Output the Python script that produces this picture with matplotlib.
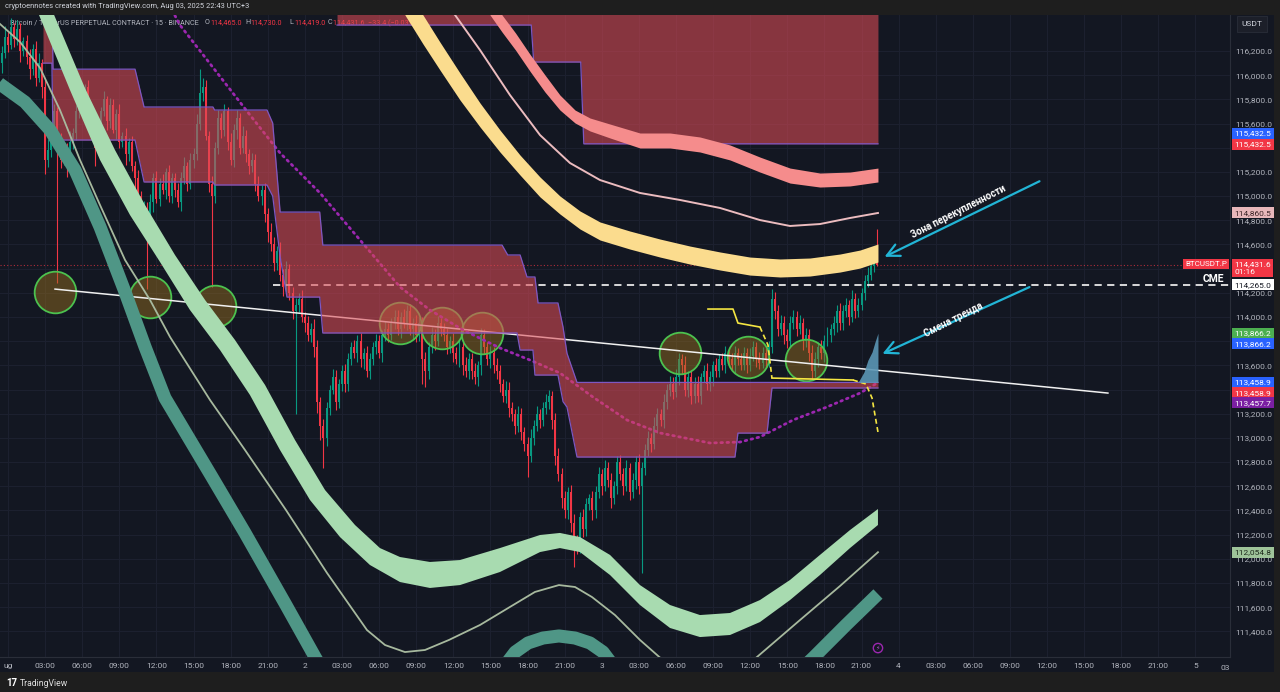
import matplotlib
matplotlib.use("Agg")
import matplotlib.pyplot as plt
from matplotlib.patches import Rectangle
from matplotlib.transforms import blended_transform_factory

plt.rcParams['font.family'] = ['Roboto', 'DejaVu Sans']

# ---------------- data ----------------
bar_start_h = -0.5      # first 15-min candle, hours since Aug 1 00:00
bar_step_h = 0.25
first_open = 116100

closes = [
    116180, 116320, 116250, 116400, 116300, 116380, 116200, 116280,
    116150, 116050, 116220, 115980, 116100, 115900, 115300, 115380,
    115500, 115700, 115450, 115300, 115380, 115250, 115450, 115520,
    115700, 115850, 115750, 115900, 115650, 115550, 115400, 115500,
    115700, 115800, 115620, 115750, 115550, 115680, 115450, 115500,
    115350, 115450, 115250, 115150, 115000, 114800, 114900, 114700,
    114950, 115150, 114980, 115100, 115050, 115200, 115000, 115150,
    115050, 114950, 115150, 115250, 115100, 115300, 115350, 115600,
    115850, 115900, 115500, 115100, 115000, 115400, 115650, 115550,
    115700, 115450, 115300, 115550, 115650, 115400, 115500, 115350,
    115250, 115300, 115100, 115000, 115050, 114850, 114700, 114600,
    114450, 114550, 114350, 114250, 114400, 114200, 114050, 114100,
    114150, 114000, 113950, 113850, 113900, 113750, 113300, 113100,
    113000, 113250, 113400, 113500, 113300, 113450, 113550, 113450,
    113650, 113750, 113700, 113800, 113650, 113700, 113550, 113650,
    113750, 113800, 113700, 113850, 113900, 113850, 113950, 114000,
    113900, 114000, 113950, 114050, 113900, 113950, 113850, 113950,
    113650, 113550, 113750, 113850, 113800, 113950, 113900, 113850,
    113750, 113800, 113700, 113650, 113750, 113600, 113550, 113650,
    113550, 113500, 113600, 113850, 113750, 113650, 113700, 113600,
    113550, 113450, 113350, 113400, 113250, 113200, 113100, 113200,
    113050, 112950, 112850, 113000, 113100, 113200, 113150, 113250,
    113300, 113350, 113150, 112850, 112700, 112500, 112400, 112550,
    112300, 112150, 112100, 112350, 112250, 112450, 112500, 112400,
    112550, 112700, 112600, 112750, 112650, 112500, 112600, 112800,
    112700, 112600, 112750, 112550, 112650, 112800, 112600, 112750,
    112900, 113000, 112950, 113100, 113200, 113150, 113300, 113400,
    113450, 113380, 113500, 113650, 113600, 113400, 113500, 113350,
    113450, 113350, 113500, 113550, 113450, 113500, 113600, 113550,
    113650, 113600, 113700, 113650, 113600, 113700, 113650, 113600,
    113700, 113600, 113680, 113750, 113650, 113620, 113700, 113650,
    113750, 114150, 114050, 113900, 113950, 113850, 113800, 113950,
    114000, 113900, 113950, 113800, 113850, 113700, 113550, 113650,
    113750, 113700, 113800, 113850, 113900, 113950, 114050, 113950,
    114050, 114100, 114000, 114150, 114050, 114100, 114200, 114300,
    114350, 114420, 114465, 114431.6,
]
wick_up = [
    60, 90, 40, 70, 30, 80, 50, 40,   50, 70, 40, 60, 80, 30, 60, 90,
    80, 60, 40, 70, 50, 60, 90, 40,   50, 40, 70, 30, 60, 80, 40, 50,
    40, 70, 30, 60, 50, 40, 80, 30,   60, 30, 50, 40, 70, 40, 60, 50,
    70, 40, 60, 50, 80, 30, 60, 40,   40, 60, 50, 70, 30, 60, 50, 80,
    200, 80, 60, 40, 70, 50, 60, 40,  60, 40, 70, 50, 60, 40, 80, 50,
    40, 60, 50, 70, 40, 60, 50, 80,   60, 40, 70, 50, 60, 40, 50, 60,
    50, 70, 40, 60, 50, 80, 60, 40,   60, 50, 40, 70, 60, 40, 50, 60,
    50, 40, 60, 50, 70, 40, 60, 50,   40, 60, 50, 40, 70, 50, 40, 60,
    60, 40, 70, 50, 60, 40, 70, 50,   50, 60, 40, 70, 50, 60, 40, 50,
    60, 40, 70, 50, 60, 40, 70, 50,   50, 70, 40, 60, 50, 40, 60, 50,
    60, 50, 40, 70, 60, 50, 40, 60,   50, 40, 60, 70, 50, 60, 40, 50,
    60, 50, 40, 60, 70, 50, 60, 40,   60, 70, 50, 40, 60, 50, 40, 60,
    50, 60, 40, 70, 50, 60, 40, 50,   60, 50, 70, 40, 60, 50, 70, 50,
    50, 60, 40, 70, 50, 40, 60, 50,   60, 50, 70, 50, 40, 80, 50, 60,
    50, 60, 40, 50, 70, 50, 40, 60,   40, 50, 60, 40, 50, 60, 40, 50,
    50, 40, 60, 50, 40, 60, 50, 40,   50, 80, 60, 50, 70, 60, 50, 60,
    60, 50, 70, 40, 60, 50, 70, 60,   40, 60, 50, 70, 40, 60, 50, 70,
    50, 60, 40, 70, 50, 60, 40, 50,   60, 40, 30, 265,
]
wick_dn = [
    80, 40, 60, 30, 70, 50, 90, 40,   60, 80, 50, 70, 40, 90, 120, 60,
    60, 50, 1170, 70, 40, 90, 50, 60, 60, 50, 40, 80, 70, 30, 150, 60,
    50, 40, 70, 60, 30, 80, 50, 40,   90, 60, 40, 150, 60, 80, 70, 470,
    50, 80, 40, 60, 30, 70, 50, 60,   60, 40, 70, 50, 60, 40, 70, 50,
    50, 60, 40, 70, 750, 60, 50, 70,  50, 70, 40, 60, 80, 50, 40, 70,
    70, 50, 60, 40, 70, 60, 80, 50,   70, 60, 50, 80, 40, 60, 70, 850,
    60, 40, 70, 50, 60, 80, 90, 120,  250, 70, 60, 40, 70, 50, 60, 70,
    60, 50, 40, 70, 60, 80, 50, 60,   50, 60, 40, 70, 50, 60, 40, 50,
    50, 70, 40, 60, 50, 80, 60, 50,   200, 130, 60, 50, 70, 40, 60, 50,
    60, 50, 70, 40, 60, 80, 50, 60,   60, 50, 70, 80, 60, 50, 70, 60,
    60, 70, 50, 60, 80, 60, 70, 50,   70, 60, 170, 50, 60, 40, 70, 50,
    50, 60, 80, 70, 60, 80, 60, 70,   80, 220, 60, 50, 70, 60, 50, 80,
    60, 50, 70, 40, 60, 80, 50, 60,   50, 70, 40, 60, 50, 70, 60, 720,
    60, 50, 70, 40, 60, 50, 70, 60,   50, 60, 40, 60, 70, 50, 60, 70,
    60, 50, 70, 40, 50, 60, 70, 50,   50, 40, 60, 50, 40, 60, 50, 40,
    40, 60, 50, 40, 60, 50, 40, 60,   60, 50, 70, 60, 50, 70, 60, 50,
    50, 60, 40, 70, 50, 60, 70, 50,   60, 50, 70, 40, 60, 50, 70, 60,
    60, 50, 70, 40, 60, 50, 40, 60,   50, 40, 45, 12.6,
]

# stepped channel (lower-left) and upper channel
bandA_h = [2.83, 3.55, 3.64, 10.27, 11.00, 16.57, 16.70, 20.94, 21.40, 22.00, 22.55, 25.20, 25.45,
           39.94, 40.40, 41.15, 41.40, 41.96, 42.44, 42.60, 42.85, 44.46, 44.87, 45.19, 46.00,
           58.77, 59.01, 61.36, 61.76, 70.33]
bandA_up = [116600, 116600, 116050, 116050, 115737, 115737, 115712, 115712, 115604, 114868, 114868, 114868, 114595,
            114595, 114513, 114513, 114513, 114331, 114331, 114331, 114116, 114116, 113917, 113700, 113459,
            113459, 113459, 113459, 113459, 113459]
bandA_lo = [116100, 116100, 115464, 115464, 115117, 115117, 115092, 115092, 115000, 114500, 114165, 114165, 113868,
            113868, 113868, 113868, 113727, 113727, 113727, 113520, 113520, 113520, 113300, 113255, 112842,
            112842, 113040, 113040, 113413, 113413]
bandB_h = [26.60, 42.30, 42.50, 46.30, 46.55, 70.33]
bandB_lo = [116415, 116415, 116109, 116109, 115432.5, 115432.5]
bandB_top = 116700

# yellow ribbon
yel_h = [32.09, 33.55, 34.92, 36.54, 38.16, 39.77, 41.39, 43.01, 44.62, 46.24, 47.86, 50.28, 52.71,
         55.13, 57.56, 59.98, 62.41, 64.83, 67.26, 68.88, 70.33]
yel_top = [116700, 116498, 116274, 116018, 115770, 115547, 115340, 115158, 115001, 114877, 114786, 114711, 114645,
           114587, 114538, 114496, 114480, 114488, 114521, 114554, 114604]
yel_bot = [116498, 116258, 116043, 115795, 115572, 115365, 115175, 114993, 114852, 114728, 114637, 114562, 114496,
           114438, 114389, 114347, 114331, 114339, 114372, 114405, 114455]

# salmon ribbon
sal_h = [38.97, 39.94, 41.03, 42.24, 43.41, 44.62, 45.84, 47.05, 48.67, 51.09, 53.52, 55.94, 58.37,
         60.79, 63.22, 65.64, 68.07, 70.33]
sal_top = [116700, 116498, 116349, 116167, 116002, 115836, 115712, 115646, 115596, 115522, 115522, 115489, 115423,
           115323, 115232, 115191, 115199, 115232]
sal_bot = [116498, 116357, 116208, 116027, 115861, 115712, 115605, 115539, 115481, 115398, 115398, 115365, 115299,
           115199, 115108, 115075, 115084, 115117]

# thin pink line
pink_h = [36.14, 38.16, 40.58, 43.01, 45.43, 47.86, 51.09, 54.33, 57.56, 60.79, 63.22, 65.64, 68.07, 70.33]
pink_p = [116498, 116208, 115836, 115505, 115274, 115133, 115026, 114968, 114902, 114802, 114753, 114769, 114819, 114860.5]

# light green ribbon (upper edge / lower edge)
lg_top_h = [3.56, 6.22, 8.65, 11.08, 13.50, 15.93, 18.35, 20.78, 23.20, 25.63, 28.05, 30.07, 31.69, 34.11, 36.54,
            39.77, 43.01, 44.62, 46.24, 48.67, 51.09, 53.52, 55.94, 58.37, 60.79, 63.22, 65.64, 68.07, 70.33]
lg_top_p = [116539, 115894, 115381, 114926, 114513, 114141, 113810, 113438, 112983, 112569, 112280, 112089, 112015,
            111974, 111990, 112089, 112197, 112214, 112180, 112032, 111783, 111618, 111535, 111552, 111659, 111825,
            112032, 112238, 112412]
lg_bot_h = [2.34, 5.01, 7.44, 9.86, 12.29, 14.71, 17.14, 19.56, 21.99, 24.41, 26.84, 29.26, 31.69, 34.11, 36.54,
            39.77, 43.01, 44.62, 46.24, 48.67, 51.09, 53.52, 55.94, 58.37, 60.79, 63.22, 65.64, 68.07, 70.33]
lg_bot_p = [116539, 115878, 115299, 114844, 114455, 114058, 113727, 113355, 112900, 112487, 112180, 111949, 111808,
            111759, 111783, 111891, 112056, 112089, 112056, 111866, 111618, 111428, 111353, 111370, 111477, 111659,
            111866, 112089, 112280]

# thin grey-green line
gl_h = [-0.65, 0.97, 2.59, 4.20, 5.82, 7.44, 9.46, 11.48, 13.10, 16.33, 19.16, 22.47, 25.79, 29.02, 30.48, 32.09,
        33.71, 35.65, 38.16, 40.58, 42.60, 44.54, 45.84, 47.21, 49.07, 51.09, 53.11, 55.94, 58.77, 60.55, 64.03,
        67.26, 70.33]
gl_p = [116424, 116275, 116060, 115712, 115299, 114926, 114472, 114141, 113835, 113314, 112900, 112404, 111883,
        111411, 111287, 111229, 111246, 111329, 111453, 111602, 111726, 111783, 111767, 111684, 111535, 111329,
        111147, 110998, 111039, 111188, 111494, 111775, 112054.8]

# dark teal ribbon (centre line)
teal_h = [-1.46, -0.65, 1.37, 3.40, 5.42, 7.44, 9.46, 11.08, 12.69, 14.71, 16.49, 19.16, 22.47, 24.82, 26.84, 31.69,
          35.73, 38.97, 40.02, 41.00, 42.04, 43.25, 44.54, 45.84, 47.05, 48.10, 49.07, 50.28, 54.33, 59.18, 63.22,
          65.16, 67.75, 70.33]
teal_p = [115993, 115927, 115778, 115547, 115216, 114745, 114207, 113752, 113330, 112983, 112677, 112214, 111618,
          111188, 110832, 110336, 110501, 110915, 111097, 111229, 111304, 111345, 111362, 111345, 111304, 111229,
          111097, 110915, 110501, 110667, 110998, 111188, 111453, 111709]

# purple dotted curve
pur_h = [13.26, 13.90, 16.73, 19.56, 21.99, 25.22, 28.46, 31.69, 34.11, 36.78, 39.77, 42.20, 44.62, 47.29, 50.04,
         52.71, 56.75, 59.18, 60.79, 63.46, 66.21, 68.88, 70.33]
pur_p = [116539, 116415, 116043, 115671, 115357, 115026, 114637, 114248, 114058, 113893, 113744, 113644, 113537,
         113338, 113148, 113041, 112958, 112966, 113008, 113148, 113256, 113371, 113457.7]

# white trend line, CME gap line, last price
trend_h = [3.80, 88.92]
trend_p = [114231, 113371]
cme_h = [21.40, 98.8]
cme_p = 114265.0
last_price = 114431.6

# yellow stop line
ys_h = [56.59, 58.61, 59.01, 60.79, 61.44, 61.76, 68.31, 69.36, 69.85, 70.33]
ys_p = [114066, 114066, 113950, 113917, 113768, 113495, 113479, 113446, 113330, 113049]

# blue shaded wedge
wedge_h = [68.72, 69.20, 69.52, 69.85, 70.09, 70.33]
wedge_p = [113458.9, 113545, 113644, 113710, 113793, 113866.2]

# highlighted circles
circ_h = [3.80, 11.48, 16.73, 31.69, 35.09, 38.32, 54.33, 59.82, 64.51]
circ_p = [114207, 114165, 114091, 113950, 113909, 113868, 113702, 113669, 113644]

# axis ticks (labels hidden behind price tags in the reference are blank)
y_ticks = [116200, 116000, 115800, 115600, 115400, 115200, 115000, 114800, 114600, 114400, 114200, 114000,
           113800, 113600, 113400, 113200, 113000, 112800, 112600, 112400, 112200, 112000, 111800, 111600, 111400]
y_tick_labels = ["116,200.0", "116,000.0", "115,800.0", "115,600.0", "", "115,200.0", "115,000.0",
                 "114,800.0", "114,600.0", "", "114,200.0", "114,000.0", "", "113,600.0",
                 "", "113,200.0", "113,000.0", "112,800.0", "112,600.0", "112,400.0", "112,200.0",
                 "112,000.0", "111,800.0", "111,600.0", "111,400.0"]
x_ticks = [0, 3, 6, 9, 12, 15, 18, 21, 24, 27, 30, 33, 36, 39, 42, 45, 48, 51, 54, 57, 60, 63, 66, 69,
           72, 75, 78, 81, 84, 87, 90, 93, 96]
x_tick_labels = ["ug", "03:00", "06:00", "09:00", "12:00", "15:00", "18:00", "21:00", "2", "03:00", "06:00",
                 "09:00", "12:00", "15:00", "18:00", "21:00", "3", "03:00", "06:00", "09:00", "12:00", "15:00",
                 "18:00", "21:00", "4", "03:00", "06:00", "09:00", "12:00", "15:00", "18:00", "21:00", "5"]

# right-scale price labels: (text, position price, box colour, text colour)
price_labels = [
    ("115,432.5", 115518, "#2962ff", "white"),
    ("115,432.5", 115431, "#f23645", "white"),
    ("114,860.5", 114860.5, "#e8b7ba", "#3b2326"),
    ("114,265.0", 114265.0, "#ffffff", "#131722"),
    ("113,866.2", 113866.2, "#4caf50", "white"),
    ("113,866.2", 113777, "#2962ff", "white"),
    ("113,458.9", 113462, "#2962ff", "white"),
    ("113,458.9", 113372, "#f23645", "white"),
    ("113,457.7", 113289, "#7b1fa2", "white"),
    ("112,054.8", 112054.8, "#9fc49a", "#1d2a1c"),
]

# ---------------- figure ----------------
W, H = 1280, 692
fig = plt.figure(figsize=(12.8, 6.92), dpi=100, facecolor="#1e1e1e")
fig.add_artist(Rectangle((0, 1 - 672 / H), 1274 / W, (672 - 15) / H, transform=fig.transFigure,
                         fc="#131722", ec="none", zorder=0))
ax = fig.add_axes([0, 1 - 657 / H, 1230 / W, (657 - 15) / H])
ax.set_facecolor("#131722")
ax.set_xlim(-0.647, 98.79)
ax.set_ylim(111188, 116498)

for s in ["top", "left"]:
    ax.spines[s].set_visible(False)
for s in ["right", "bottom"]:
    ax.spines[s].set_color("#2a2e39")
    ax.spines[s].set_linewidth(0.8)

ax.yaxis.tick_right()
ax.set_yticks(y_ticks)
ax.set_yticklabels(y_tick_labels)
ax.set_xticks(x_ticks)
ax.set_xticklabels(x_tick_labels)
ax.tick_params(axis="both", length=0, colors="#b2b5be", labelsize=6.0)
ax.tick_params(axis="y", pad=4)
ax.tick_params(axis="x", pad=4)
ax.grid(True, color="#1d2130", lw=0.7, zorder=0)
ax.set_axisbelow(True)

# legend line (beneath indicators)
leg_y = 1 - (23 - 15) / 642
ax.text(10 / 1230, leg_y, "Bitcoin / TetherUS PERPETUAL CONTRACT · 15 · BINANCE", transform=ax.transAxes,
        fontsize=5.2, color="#b2b5be", va="center", ha="left", zorder=1)
for xp, lab, val in [(205, "O", "114,465.0"), (245, "H", "114,730.0"), (289, "L", "114,419.0"),
                     (328, "C", "114,431.6  −33.4 (−0.03%)")]:
    ax.text(xp / 1230, leg_y, lab, transform=ax.transAxes, fontsize=5.2, color="#b2b5be",
            va="center", ha="left", zorder=1)
    ax.text((xp + 5) / 1230, leg_y, val, transform=ax.transAxes, fontsize=5.2, color="#f23645",
            va="center", ha="left", zorder=1)

# last price dotted line
ax.axhline(last_price, color="#f23645", lw=0.8, ls=(0, (1, 2)), alpha=0.7, zorder=1.5)

# candles
n = len(closes)
times = [bar_start_h + bar_step_h * i for i in range(n)]
opens = [first_open] + closes[:-1]
highs = [max(o, c) + u for o, c, u in zip(opens, closes, wick_up)]
lows = [min(o, c) - d for o, c, d in zip(opens, closes, wick_dn)]
cols = ["#089981" if c >= o else "#f23645" for o, c in zip(opens, closes)]
ax.vlines(times, lows, highs, colors=cols, lw=0.8, zorder=2)
ax.bar(times, [max(abs(c - o), 8) for o, c in zip(opens, closes)], width=0.16,
       bottom=[min(o, c) for o, c in zip(opens, closes)], color=cols, lw=0, zorder=2)

# circles
ax.scatter(circ_h, circ_p, s=900, facecolor=(0.62, 0.45, 0.12, 0.45), edgecolor="#4cc24f",
           linewidths=1.3, zorder=2.5)

# trend, CME, purple dotted
ax.plot(trend_h, trend_p, color="#f0f0f0", lw=1.1, zorder=2.6)
ax.plot(cme_h, [cme_p, cme_p], color="#e8e8e8", lw=1.3, ls=(0, (4, 3)), zorder=2.6)
ax.plot(pur_h, pur_p, color="#9c27b0", lw=2.0, ls=(0, (0.6, 1.6)), dash_capstyle="round", zorder=2.7)

# channels
band_col = (220 / 255, 75 / 255, 85 / 255)
ax.fill_between(bandA_h, bandA_lo, bandA_up, color=band_col, alpha=0.58, lw=0, zorder=3)
ax.plot(bandA_h, bandA_up, color="#7e57c2", lw=0.9, zorder=3.1)
ax.plot(bandA_h, bandA_lo, color="#7e57c2", lw=0.9, zorder=3.1)
ax.fill_between(bandB_h, bandB_lo, bandB_top, color=band_col, alpha=0.58, lw=0, zorder=3)
ax.plot(bandB_h, bandB_lo, color="#7e57c2", lw=0.9, zorder=3.1)

# ribbons
ax.plot(teal_h, teal_p, color="#4f9686", lw=9.4, solid_capstyle="butt", solid_joinstyle="round", zorder=4)
ax.plot(gl_h, gl_p, color="#a7b99e", lw=1.3, zorder=4)
ax.fill(lg_top_h + lg_bot_h[::-1], lg_top_p + lg_bot_p[::-1], color="#a8dbb0", lw=0, zorder=4)
ax.fill_between(yel_h, yel_bot, yel_top, color="#fbdc8e", lw=0, zorder=4)
ax.fill_between(sal_h, sal_bot, sal_top, color="#f58c8c", lw=0, zorder=4)
ax.plot(pink_h, pink_p, color="#ecbcbf", lw=1.4, zorder=4)

# yellow stop line and wedge
ax.plot(ys_h[:4], ys_p[:4], color="#f5e642", lw=1.2, zorder=4.5)
ax.plot(ys_h[3:6], ys_p[3:6], color="#f5e642", lw=1.2, ls=(0, (3, 2)), zorder=4.5)
ax.plot(ys_h[5:7], ys_p[5:7], color="#f5e642", lw=1.2, zorder=4.5)
ax.plot(ys_h[6:], ys_p[6:], color="#f5e642", lw=1.2, ls=(0, (3, 2)), zorder=4.5)
ax.fill_between(wedge_h, [113458.9] * len(wedge_h), wedge_p, color="#5b96b5", alpha=0.9, lw=0, zorder=4.5)

# annotations
arrow_col = "#22b5d6"
ax.annotate("", xy=(70.66, 114488), xytext=(83.59, 115133),
            arrowprops=dict(arrowstyle="->,head_length=0.9,head_width=0.45", color=arrow_col, lw=1.6), zorder=6)
ax.annotate("", xy=(70.49, 113686), xytext=(82.78, 114257),
            arrowprops=dict(arrowstyle="->,head_length=0.9,head_width=0.45", color=arrow_col, lw=1.6), zorder=6)
ax.text(76.8, 114868, "Зона перекупленности", rotation=27, rotation_mode="anchor", ha="center", va="center",
        fontsize=7.0, fontweight="bold", color="white", zorder=6)
ax.text(76.4, 113975, "Смена тренда", rotation=27, rotation_mode="anchor", ha="center", va="center",
        fontsize=7.0, fontweight="bold", color="white", zorder=6)
ax.text(97.41, 114318, "CME", ha="center", va="center", fontsize=7.5, fontweight="bold", color="white", zorder=6)

# lightning marker
ax.scatter([70.33], [111262], s=45, facecolor="none", edgecolor="#9c27b0", lw=1.0, zorder=6)
ax.text(70.33, 111262, "⚡", fontsize=4.5, color="#b04fc9", ha="center", va="center", zorder=6,
        family=["DejaVu Sans"])

# right-scale labels
trans = blended_transform_factory(ax.transAxes, ax.transData)
for txt, p, fc, tc in price_labels:
    ax.text(1.0035, p, txt, transform=trans, fontsize=6.0, color=tc, va="center", ha="left",
            bbox=dict(boxstyle="square,pad=0.3", fc=fc, ec="none"), clip_on=False, zorder=10)
ax.text(1.0035, 114405, "114,431.6\n01:16", transform=trans, fontsize=6.0, color="white", va="center", ha="left",
        linespacing=1.2, bbox=dict(boxstyle="square,pad=0.3", fc="#f23645", ec="none"), clip_on=False, zorder=10)
ax.text(0.9975, 114438, "BTCUSDT.P", transform=trans, fontsize=5.8, color="white", va="center", ha="right",
        bbox=dict(boxstyle="square,pad=0.25", fc="#f23645", ec="none"), clip_on=False, zorder=10)
fig.text(1252 / W, 1 - 24 / H, "USDT", fontsize=6.0, color="#d1d4dc", ha="center", va="center",
         bbox=dict(boxstyle="square,pad=0.6", fc="#1c1f29", ec="#2a2e39", lw=0.6), zorder=10)
ax.text(1.0, -0.0125, "03", transform=ax.transAxes, fontsize=6.0, color="#b2b5be", ha="right", va="top",
        zorder=10)

# header and footer
fig.text(5 / W, 1 - 7 / H, "cryptoennotes created with TradingView.com, Aug 03, 2025 22:43 UTC+3",
         fontsize=5.4, color="#d1d4dc", ha="left", va="center")
fig.text(6 / W, 1 - 683 / H, "17", fontsize=7, fontweight="bold", color="white", ha="left", va="center")
fig.text(20 / W, 1 - 683 / H, "TradingView", fontsize=6.2, color="#e0e0e0", ha="left", va="center")

fig.savefig("out.png", dpi=100, facecolor=fig.get_facecolor())
